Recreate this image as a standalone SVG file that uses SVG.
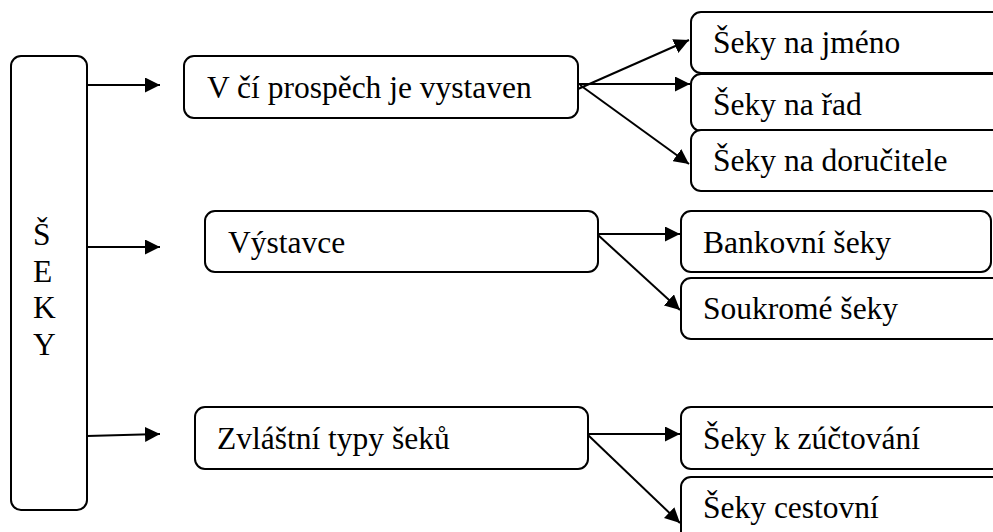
<svg xmlns="http://www.w3.org/2000/svg" width="993" height="532" viewBox="0 0 993 532">
<defs>
<marker id="ah" markerWidth="15" markerHeight="15" viewBox="0 0 15 15" refX="15" refY="7.5" orient="auto" markerUnits="userSpaceOnUse">
<path d="M0,0 L15,7.5 L0,15 Z" fill="#000"/>
</marker>
<style>
.box{fill:#fff;stroke:#000;stroke-width:2}
.t{font-family:"Liberation Serif","Times New Roman",serif;font-size:31.5px;fill:#000}
.c{stroke:#000;stroke-width:2;fill:none;marker-end:url(#ah)}
</style>
</defs>
<rect width="993" height="532" fill="#fff"/>
<g id="connectors">
<line class="c" x1="87" y1="85" x2="160" y2="85"/>
<line class="c" x1="87" y1="247" x2="160" y2="247"/>
<line class="c" x1="87" y1="436" x2="160" y2="434"/>
<line class="c" x1="578" y1="89" x2="689" y2="40"/>
<line class="c" x1="578" y1="84" x2="690" y2="84"/>
<line class="c" x1="580" y1="85" x2="689" y2="164"/>
<line class="c" x1="598" y1="234" x2="680" y2="234"/>
<line class="c" x1="598" y1="235" x2="680" y2="310"/>
<line class="c" x1="588" y1="434" x2="680" y2="434"/>
<line class="c" x1="588" y1="435" x2="680" y2="523"/>
</g>
<g id="seky">
<rect class="box" x="11" y="56" width="76" height="454" rx="10"/>
<text class="t" x="33" y="245">Š</text>
<text class="t" x="33" y="282">E</text>
<text class="t" x="33" y="318">K</text>
<text class="t" x="33" y="355">Y</text>
</g>
<g id="prospech">
<rect class="box" x="184" y="56" width="394" height="62" rx="10"/>
<text class="t" x="207" y="98">V čí prospěch je vystaven</text>
</g>
<g id="vystavce">
<rect class="box" x="205" y="211" width="393" height="61" rx="10"/>
<text class="t" x="228" y="253">Výstavce</text>
</g>
<g id="zvlastni">
<rect class="box" x="195" y="407" width="393" height="62" rx="10"/>
<text class="t" x="217" y="449">Zvláštní typy šeků</text>
</g>
<g id="jmeno">
<rect class="box" x="691" y="12" width="320" height="61" rx="10"/>
<text class="t" x="713" y="53">Šeky na jméno</text>
</g>
<g id="rad">
<rect class="box" x="691" y="74" width="320" height="57" rx="10"/>
<text class="t" x="713" y="115">Šeky na řad</text>
</g>
<g id="dorucitele">
<rect class="box" x="691" y="130" width="320" height="61" rx="10"/>
<text class="t" x="713" y="171">Šeky na doručitele</text>
</g>
<g id="bankovni">
<rect class="box" x="681" y="211" width="310" height="61" rx="10"/>
<text class="t" x="703" y="253">Bankovní šeky</text>
</g>
<g id="soukrome">
<rect class="box" x="681" y="278" width="330" height="61" rx="10"/>
<text class="t" x="703" y="319">Soukromé šeky</text>
</g>
<g id="zuctovani">
<rect class="box" x="681" y="407" width="330" height="62" rx="10"/>
<text class="t" x="703" y="449">Šeky k zúčtování</text>
</g>
<g id="cestovni">
<rect class="box" x="681" y="477" width="330" height="80" rx="10"/>
<text class="t" x="703" y="518">Šeky cestovní</text>
</g>
</svg>
